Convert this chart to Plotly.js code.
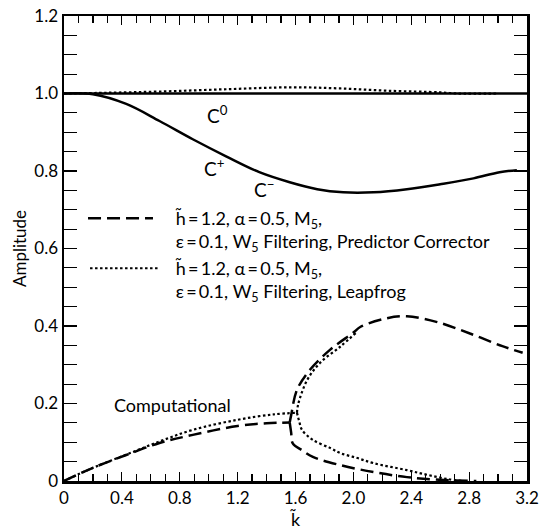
<!DOCTYPE html>
<html>
<head>
<meta charset="utf-8">
<script src="https://cdn.plot.ly/plotly-3.0.1.min.js"></script>
<style>html,body{margin:0;padding:0;background:#fff;}#chart{width:540px;height:531px;}</style>
</head>
<body>
<div id="chart"></div>
<script>
// Exact solutions
const kC0 = [0, 3.2];
const ampC0 = [1.0, 1.0];
const kCpm = [0, 0.2, 0.43, 0.66, 0.89, 1.12, 1.35, 1.56, 1.75, 1.93, 2.14, 2.37, 2.6, 2.83, 3.01, 3.13];
const ampCpm = [1.0, 0.998, 0.973, 0.929, 0.882, 0.838, 0.797, 0.771, 0.753, 0.745, 0.745, 0.753, 0.766, 0.781, 0.797, 0.802];

// Leapfrog physical (dotted, slightly above 1)
const kLfPhys = [0, 0.3, 0.66, 1.12, 1.58, 1.91, 2.25, 2.6, 2.72, 3.0];
const ampLfPhys = [1.0, 1.002, 1.005, 1.011, 1.016, 1.013, 1.007, 1.003, 1.0, 1.0];

// Predictor-Corrector computational (dashed)
const kPcComp = [0, 0.2, 0.43, 0.66, 0.89, 1.2, 1.4, 1.56];
const ampPcComp = [0, 0.034, 0.067, 0.098, 0.119, 0.142, 0.149, 0.151];
const kPcUpper = [1.56, 1.57, 1.61, 1.70, 1.84, 2.0, 2.05, 2.23, 2.37, 2.58, 2.81, 3.03, 3.17];
const ampPcUpper = [0.151, 0.17, 0.235, 0.287, 0.339, 0.383, 0.398, 0.42, 0.425, 0.41, 0.38, 0.348, 0.331];
const kPcLower = [1.56, 1.57, 1.58, 1.65, 1.72, 1.91, 2.14, 2.37, 2.6, 2.85];
const ampPcLower = [0.151, 0.125, 0.098, 0.078, 0.062, 0.041, 0.023, 0.01, 0.003, 0];

// Leapfrog computational (dotted)
const kLfComp = [0, 0.2, 0.43, 0.66, 0.89, 1.2, 1.45, 1.61];
const ampLfComp = [0, 0.034, 0.068, 0.102, 0.132, 0.158, 0.172, 0.176];
const kLfUpper = [1.61, 1.62, 1.68, 1.77, 1.91, 2.02];
const ampLfUpper = [0.176, 0.20, 0.26, 0.305, 0.347, 0.383];
const kLfLower = [1.61, 1.625, 1.645, 1.72, 1.84, 1.91, 2.02, 2.14, 2.37, 2.51, 2.65, 2.75];
const ampLfLower = [0.176, 0.155, 0.132, 0.106, 0.085, 0.072, 0.06, 0.046, 0.028, 0.016, 0.005, 0];

const xTickVals = [0, 0.4, 0.8, 1.2, 1.6, 2.0, 2.4, 2.8, 3.2];
const xTickText = ["0", "0.4", "0.8", "1.2", "1.6", "2.0", "2.4", "2.8", "3.2"];
const yTickVals = [0, 0.2, 0.4, 0.6, 0.8, 1.0, 1.2];
const yTickText = ["0", "0.2", "0.4", "0.6", "0.8", "1.0", "1.2"];

const legendPC = "h\u0303\u2009=\u20091.2, \u03b1\u2009=\u20090.5, M<sub>5</sub>,<br>\u03b5\u2009=\u20090.1, W<sub>5</sub> Filtering, Predictor Corrector";
const legendLF = "h\u0303\u2009=\u20091.2, \u03b1\u2009=\u20090.5, M<sub>5</sub>,<br>\u03b5\u2009=\u20090.1, W<sub>5</sub> Filtering, Leapfrog";

const FONT = "Lato, 'DejaVu Sans', sans-serif";
const solid = {color: '#000', width: 2.5};
const dashed = {color: '#000', width: 2.5, dash: '13px,6px'};
const dotted = {color: '#000', width: 2.2, dash: '2.5px,2.5px'};

const traces = [
  {x: kC0, y: ampC0, mode: 'lines', line: solid},
  {x: kCpm, y: ampCpm, mode: 'lines', line: Object.assign({shape: 'spline'}, solid)},
  {x: kLfPhys, y: ampLfPhys, mode: 'lines', line: Object.assign({shape: 'spline'}, dotted)},
  {x: kPcComp, y: ampPcComp, mode: 'lines', line: Object.assign({shape: 'spline'}, dashed)},
  {x: kPcUpper, y: ampPcUpper, mode: 'lines', line: Object.assign({shape: 'spline'}, dashed)},
  {x: kPcLower, y: ampPcLower, mode: 'lines', line: Object.assign({shape: 'spline'}, dashed)},
  {x: kLfComp, y: ampLfComp, mode: 'lines', line: Object.assign({shape: 'spline'}, dotted)},
  {x: kLfUpper, y: ampLfUpper, mode: 'lines', line: Object.assign({shape: 'spline'}, dotted)},
  {x: kLfLower, y: ampLfLower, mode: 'lines', line: Object.assign({shape: 'spline'}, dotted)}
];

const txt = (x, y, text, anchor, size) => ({x: x, y: y, xref: 'x', yref: 'y', text: text, showarrow: false,
  xanchor: anchor || 'left', align: 'left', yanchor: 'middle', font: {family: FONT, size: size || 18, color: '#000'}});

const annotations = [
  txt(1.06, 0.945, 'C<sup>0</sup>', 'center', 19),
  txt(1.04, 0.81, 'C<sup>+</sup>', 'center', 19),
  txt(1.38, 0.755, 'C<sup>\u2212</sup>', 'center', 19),
  txt(0.75, 0.197, 'Computational', 'center', 18),
  txt(0.755, 0.646, legendPC),
  txt(0.755, 0.517, legendLF)
];

const shapes = [
  {type: 'line', xref: 'x', yref: 'y', x0: 0.166, x1: 0.615, y0: 0.678, y1: 0.678, line: dashed},
  {type: 'line', xref: 'x', yref: 'y', x0: 0.18, x1: 0.65, y0: 0.549, y1: 0.549, line: dotted}
];

const layout = {
  width: 540, height: 531,
  margin: {l: 64, r: 13, t: 16, b: 50},
  paper_bgcolor: '#fff', plot_bgcolor: '#fff',
  showlegend: false,
  font: {family: FONT, size: 17, color: '#000'},
  xaxis: {
    range: [0, 3.2], tickmode: 'array', tickvals: xTickVals, ticktext: xTickText,
    ticks: 'inside', ticklen: 9, tickwidth: 1.2, tickcolor: '#000',
    minor: {ticks: 'inside', dtick: 0.1, tick0: 0, ticklen: 7, tickwidth: 1.2, tickcolor: '#000'},
    showline: true, linewidth: 2.5, linecolor: '#000', mirror: 'ticks',
    showgrid: false, zeroline: false,
    tickfont: {family: FONT, size: 17},
    title: {text: 'k\u0303', font: {family: FONT, size: 18}, standoff: 4}
  },
  yaxis: {
    range: [0, 1.2], tickmode: 'array', tickvals: yTickVals, ticktext: yTickText,
    ticks: 'inside', ticklen: 13, tickwidth: 1.2, tickcolor: '#000',
    minor: {ticks: 'inside', dtick: 0.05, tick0: 0, ticklen: 13, tickwidth: 1.2, tickcolor: '#000'},
    showline: true, linewidth: 2.5, linecolor: '#000', mirror: 'ticks',
    showgrid: false, zeroline: false,
    tickfont: {family: FONT, size: 17},
    title: {text: 'Amplitude', font: {family: FONT, size: 17}, standoff: 4}
  },
  annotations: annotations,
  shapes: shapes
};

Plotly.newPlot('chart', traces, layout, {displayModeBar: false, staticPlot: true});
</script>
</body>
</html>
